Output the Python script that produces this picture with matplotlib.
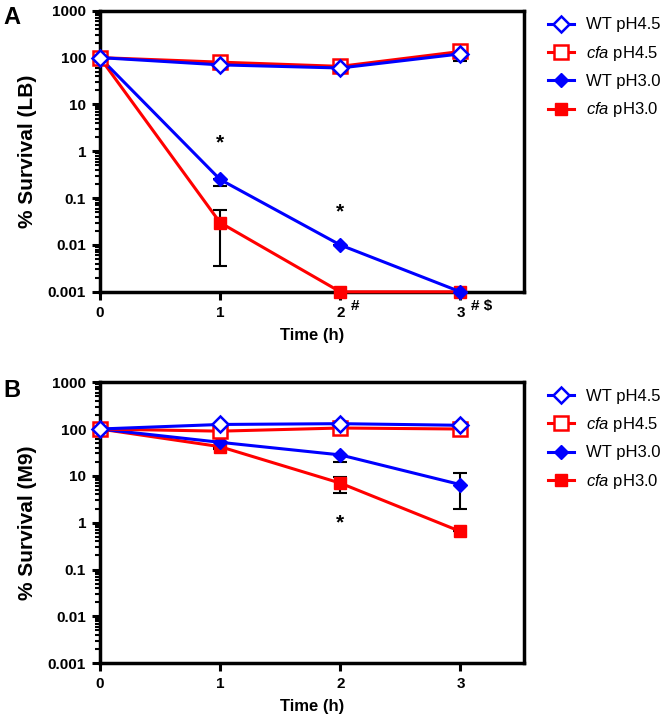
import matplotlib
matplotlib.use("Agg")
import matplotlib.pyplot as plt
from matplotlib.ticker import LogLocator, NullFormatter
import numpy as np

plt.rcParams['font.family'] = ['Liberation Sans', 'DejaVu Sans']
plt.rcParams['mathtext.fontset'] = 'custom'
plt.rcParams['mathtext.it'] = 'Liberation Sans:italic'
plt.rcParams['mathtext.rm'] = 'Liberation Sans'

time = [0, 1, 2, 3]
labels = ["WT pH4.5", "$\\it{cfa}$ pH4.5", "WT pH3.0", "$\\it{cfa}$ pH3.0"]

# Panel A (LB)
a_wt45 = [100, 70, 60, 120]
a_cfa45 = [100, 80, 65, 135]
a_wt30 = [100, 0.25, 0.01, 0.001]
a_cfa30 = [100, 0.03, 0.001, 0.001]
a_wt45_err = [[0, 8, 8, 35], [0, 0, 0, 0]]
a_cfa45_err = [[0, 0, 6, 0], [0, 0, 0, 0]]
a_wt30_err = [[0, 0.07, 0, 0], [0, 0, 0, 0]]
a_cfa30_err = [[0, 0.0265, 0, 0], [0, 0.025, 0, 0]]

# Panel B (M9)
b_wt45 = [100, 125, 130, 120]
b_cfa45 = [100, 90, 105, 100]
b_wt30 = [100, 52, 28, 6.5]
b_cfa30 = [100, 42, 7, 0.65]
b_wt45_err = [[0, 0, 0, 0], [0, 0, 0, 0]]
b_cfa45_err = [[0, 0, 0, 0], [0, 0, 0, 0]]
b_wt30_err = [[0, 0, 8, 4.5], [0, 0, 0, 5]]
b_cfa30_err = [[0, 5, 2.7, 0], [0, 0, 2.5, 0]]

fig = plt.figure(figsize=(6.66, 7.17), dpi=100)
axA = fig.add_axes([0.150, 0.593, 0.637, 0.392])
axB = fig.add_axes([0.150, 0.075, 0.637, 0.392])

blue = '#0000FF'
red = '#FF0000'

def draw(ax, wt45, cfa45, wt30, cfa30, e_wt45, e_cfa45, e_wt30, e_cfa30, ylab):
    ekw = dict(fmt='none', ecolor='black', elinewidth=1.5, capsize=5, capthick=1.5, zorder=2, clip_on=False)
    ax.errorbar(time, wt30, yerr=e_wt30, **ekw)
    ax.errorbar(time, cfa30, yerr=e_cfa30, **ekw)
    ax.errorbar(time, wt45, yerr=e_wt45, **ekw)
    ax.errorbar(time, cfa45, yerr=e_cfa45, **ekw)
    h4, = ax.plot(time, cfa30, color=red, lw=2.2, marker='s', ms=9, mfc=red, mec=red, zorder=3, clip_on=False)
    h3, = ax.plot(time, wt30, color=blue, lw=2.2, marker='D', ms=7, mfc=blue, mec=blue, zorder=4, clip_on=False)
    h2, = ax.plot(time, cfa45, color=red, lw=2.2, marker='s', ms=10, mfc='white', mec=red, mew=1.8, zorder=5, clip_on=False)
    h1, = ax.plot(time, wt45, color=blue, lw=2.2, marker='D', ms=8, mfc='white', mec=blue, mew=1.8, zorder=6, clip_on=False)
    ax.set_yscale('log')
    ax.set_ylim(0.001, 1000)
    ax.set_xlim(0, 3.53)
    ax.set_yticks([0.001, 0.01, 0.1, 1, 10, 100, 1000])
    ax.set_yticklabels(['0.001', '0.01', '0.1', '1', '10', '100', '1000'])
    ax.yaxis.set_minor_locator(LogLocator(base=10, subs=np.arange(2, 10), numticks=20))
    ax.yaxis.set_minor_formatter(NullFormatter())
    ax.set_xticks(time)
    ax.set_xticklabels(['0', '1', '2', '3'])
    for s in ax.spines.values():
        s.set_linewidth(2.5)
    ax.tick_params(axis='both', which='major', direction='out', length=6, width=2.2, labelsize=11, pad=4)
    ax.tick_params(axis='y', which='minor', direction='out', length=3.5, width=1.5)
    for t in ax.get_xticklabels() + ax.get_yticklabels():
        t.set_fontweight('bold')
    ax.set_xlabel('Time (h)', fontsize=12, fontweight='bold', labelpad=6)
    ax.set_ylabel(ylab, fontsize=15, fontweight='bold', labelpad=8)
    leg = ax.legend([h1, h2, h3, h4], labels, loc='upper left', bbox_to_anchor=(1.04, 1.0),
                    frameon=False, fontsize=12, handlelength=1.6, labelspacing=0.68,
                    handletextpad=0.7, borderaxespad=0.0)
    return leg

draw(axA, a_wt45, a_cfa45, a_wt30, a_cfa30, a_wt45_err, a_cfa45_err, a_wt30_err, a_cfa30_err, '% Survival (LB)')
draw(axB, b_wt45, b_cfa45, b_wt30, b_cfa30, b_wt45_err, b_cfa45_err, b_wt30_err, b_cfa30_err, '% Survival (M9)')

# Annotations
axA.text(1, 1.5, '*', ha='center', va='center', fontsize=15, fontweight='bold')
axA.text(2, 0.05, '*', ha='center', va='center', fontsize=15, fontweight='bold')
axA.text(2.09, -0.05, '#', transform=axA.get_xaxis_transform(), ha='left', va='center', fontsize=11, fontweight='bold')
axA.text(3.09, -0.05, '# $', transform=axA.get_xaxis_transform(), ha='left', va='center', fontsize=11, fontweight='bold')
axB.text(2, 1.0, '*', ha='center', va='center', fontsize=15, fontweight='bold')

fig.text(0.005, 0.975, 'A', fontsize=17, fontweight='bold', va='center')
fig.text(0.005, 0.455, 'B', fontsize=17, fontweight='bold', va='center')

fig.savefig('out.png', dpi=100)
